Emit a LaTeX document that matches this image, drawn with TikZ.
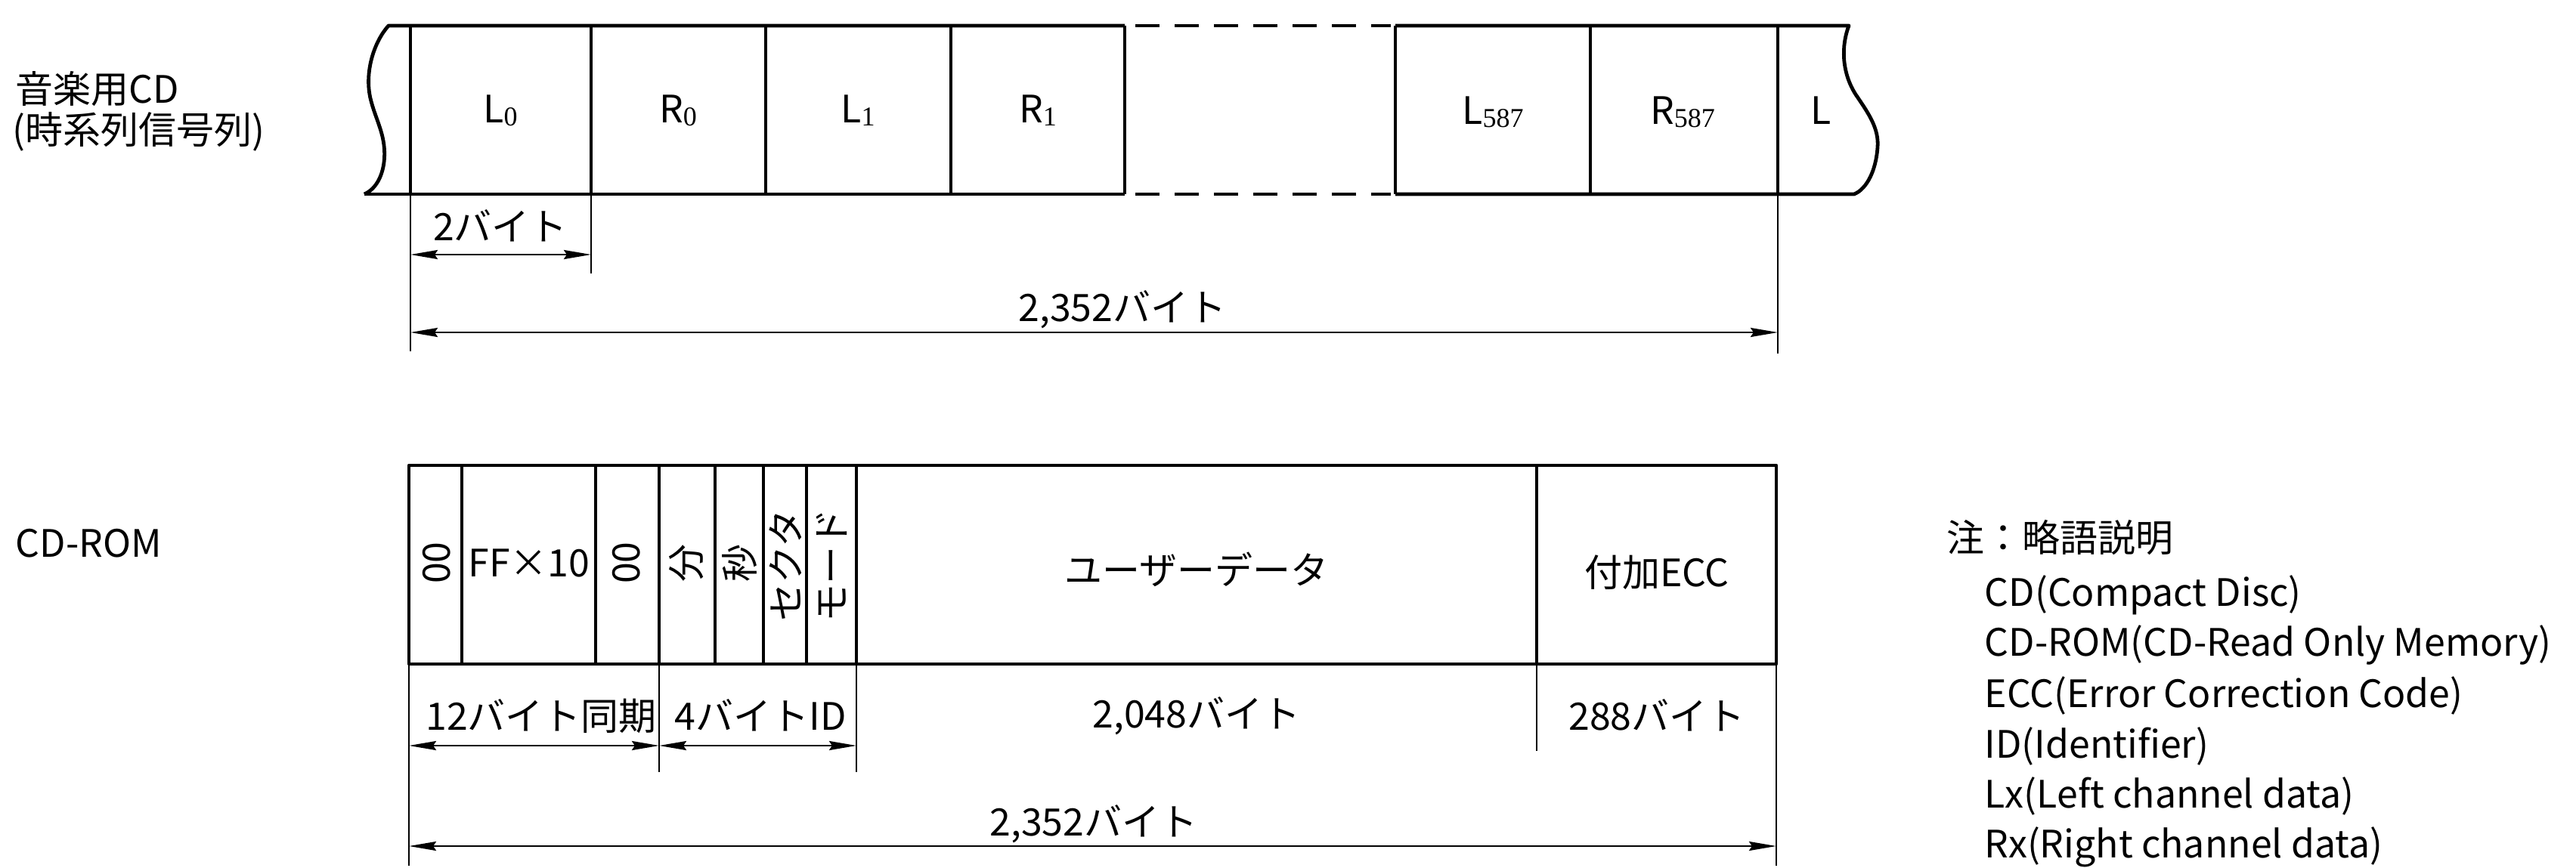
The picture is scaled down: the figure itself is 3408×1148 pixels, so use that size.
\documentclass[tikz,border=0pt]{standalone}
\usepackage{fontspec}
\setmainfont{Noto Sans CJK JP}
\newfontfamily\notefont{Noto Sans CJK JP}
\newfontfamily\subdigfont{Liberation Serif}
\usetikzlibrary{arrows.meta}
\newcommand\subdig[1]{\raisebox{-1.2pt}{\subdigfont\fontsize{9}{9}\selectfont #1}}
\begin{document}
\begin{tikzpicture}[x=0.25pt,y=-0.25pt,
  outline/.style={line width=1.2pt, line join=round},
  sepline/.style={line width=0.95pt},
  dimline/.style={line width=0.7pt},
  dimarrow/.style={line width=0.7pt,
    {Stealth[length=9pt,width=3pt,inset=1pt]}-{Stealth[length=9pt,width=3pt,inset=1pt]}},
  lbl/.style={inner sep=0pt, font=\fontsize{12.5}{15}\selectfont},
  note/.style={inner sep=0pt, anchor=base west, font=\notefont\fontsize{12.5}{15}\selectfont},
]
\useasboundingbox (0,0) rectangle (3408,1148);
\fill[white] (0,0) rectangle (3408,1148);

% ---------------- top strip (audio CD) ----------------
\foreach \n/\x in {a/543, b/782, c/1013, d/1258, e/1488, f/1846, g/2104, h/2352} {
  \coordinate (t\n) at (\x,34);
  \coordinate (b\n) at (\x,257);
}
\coordinate (wlt) at (514,34);  \coordinate (wlb) at (482,257);
\coordinate (wrt) at (2446,34); \coordinate (wrb) at (2453,257);
\coordinate (dt1) at (1502,34); \coordinate (dt2) at (1840,34);
\coordinate (db1) at (1502,257); \coordinate (db2) at (1840,257);

\draw[outline] (wlb) .. controls (494,252) and (505,238) .. (508,215)
  .. controls (512,180) and (497,160) .. (490,130)
  .. controls (482,95) and (495,55) .. (wlt) -- (te);
\draw[outline] (wlb) -- (be);
\draw[outline] (tf) -- (wrt) .. controls (2436,60) and (2436,95) .. (2455,125)
  .. controls (2472,150) and (2486,170) .. (2484,195)
  .. controls (2482,225) and (2470,250) .. (wrb) -- (bf);
\draw[outline, dash pattern=on 8pt off 5pt] (dt1) -- (dt2);
\draw[outline, dash pattern=on 8pt off 5pt] (db1) -- (db2);
\foreach \n in {a,b,c,d,e,f,g,h} { \draw[sepline] (t\n) -- (b\n); }

\node[lbl, anchor=base] (l0) at (662,162) {L\subdig{0}};
\node[lbl, anchor=base] (r0) at (897,162) {R\subdig{0}};
\node[lbl, anchor=base] (l1) at (1135,162) {L\subdig{1}};
\node[lbl, anchor=base] (r1) at (1373,162) {R\subdig{1}};
\node[lbl, anchor=base] (l587) at (1975,164) {L\subdig{587}};
\node[lbl, anchor=base] (r587) at (2226,164) {R\subdig{587}};
\node[lbl, anchor=base] (lx) at (2409,164) {L};

% dimensions of top strip
\coordinate (ea) at (543,465);
\coordinate (eb) at (782,362);
\coordinate (eh) at (2352,468);
\draw[dimline] (ba) -- (ea);
\draw[dimline] (bb) -- (eb);
\draw[dimline] (bh) -- (eh);
\coordinate (s1) at (543,337); \coordinate (s2) at (782,337);
\draw[dimarrow] (s1) -- (s2);
\node[lbl, anchor=base] (two) at (662,318) {2バイト};
\coordinate (g1) at (543,440); \coordinate (g2) at (2352,440);
\draw[dimarrow] (g1) -- (g2);
\node[lbl, anchor=base] (tot1) at (1485,425) {2,352バイト};

% left labels
\node[lbl, anchor=base west] (cdlab) at (20,136) {音楽用CD};
\node[lbl, anchor=base west] (cdlab2) at (16,190) {(時系列信号列)};
\node[lbl, anchor=base west] (romlab) at (20,737) {CD-ROM};

% ---------------- bottom strip (CD-ROM) ----------------
\coordinate (R1) at (541,616); \coordinate (R2) at (2350,879);
\draw[outline] (R1) rectangle (R2);
\foreach \n/\x in {p/611, q/788, r/872, s/946, u/1010, v/1067, w/1133, z/2033} {
  \coordinate (T\n) at (\x,616);
  \coordinate (B\n) at (\x,879);
  \draw[sepline] (T\n) -- (B\n);
}
\coordinate (BL) at (541,879); \coordinate (BR) at (2350,879);

\node[lbl, rotate=90] (zz1) at (578,745) {00};
\node[lbl] (ff) at (700,745) {FF×10};
\node[lbl, rotate=90] (zz2) at (829,745) {00};
\node[lbl, rotate=90] (fun) at (908,745) {分};
\node[lbl, rotate=90] (byo) at (978,745) {秒};
\node[lbl, rotate=90] (sec) at (1039,748) {セクタ};
\node[lbl, rotate=90] (mode) at (1100,748) {モード};
\node[lbl, anchor=base] (ud) at (1583,773) {ユーザーデータ};
\node[lbl, anchor=base] (ecc) at (2192,776) {付加ECC};

% dimensions of bottom strip
\coordinate (EL) at (541,1146);
\coordinate (Er) at (872,1022);
\coordinate (Ew) at (1133,1022);
\coordinate (Ez) at (2033,994);
\coordinate (ER) at (2350,1146);
\draw[dimline] (BL) -- (EL);
\draw[dimline] (Br) -- (Er);
\draw[dimline] (Bw) -- (Ew);
\draw[dimline] (Bz) -- (Ez);
\draw[dimline] (BR) -- (ER);
\coordinate (k1) at (541,987); \coordinate (k2) at (872,987); \coordinate (k3) at (1133,987);
\draw[dimarrow] (k1) -- (k2);
\draw[dimarrow] (k2) -- (k3);
\coordinate (m1) at (541,1120); \coordinate (m2) at (2350,1120);
\draw[dimarrow] (m1) -- (m2);

\node[lbl, anchor=base] (sync) at (716,966) {12バイト同期};
\node[lbl, anchor=base] (idl) at (1006,966) {4バイトID};
\node[lbl, anchor=base] (udl) at (1583,963) {2,048バイト};
\node[lbl, anchor=base] (eccl) at (2192,966) {288バイト};
\node[lbl, anchor=base] (tot2) at (1447,1106) {2,352バイト};

% ---------------- notes ----------------
\node[lbl, anchor=base west] (n0) at (2575,730) {注：略語説明};
\node[note] (n1) at (2625,802) {CD(Compact Disc)};
\node[note] (n2) at (2625,868) {CD-ROM(CD-Read Only Memory)};
\node[note] (n3) at (2625,936) {ECC(Error Correction Code)};
\node[note] (n4) at (2625,1003) {ID(Identifier)};
\node[note] (n5) at (2625,1069) {Lx(Left channel data)};
\node[note] (n6) at (2625,1135) {Rx(Right channel data)};
\end{tikzpicture}
\end{document}
